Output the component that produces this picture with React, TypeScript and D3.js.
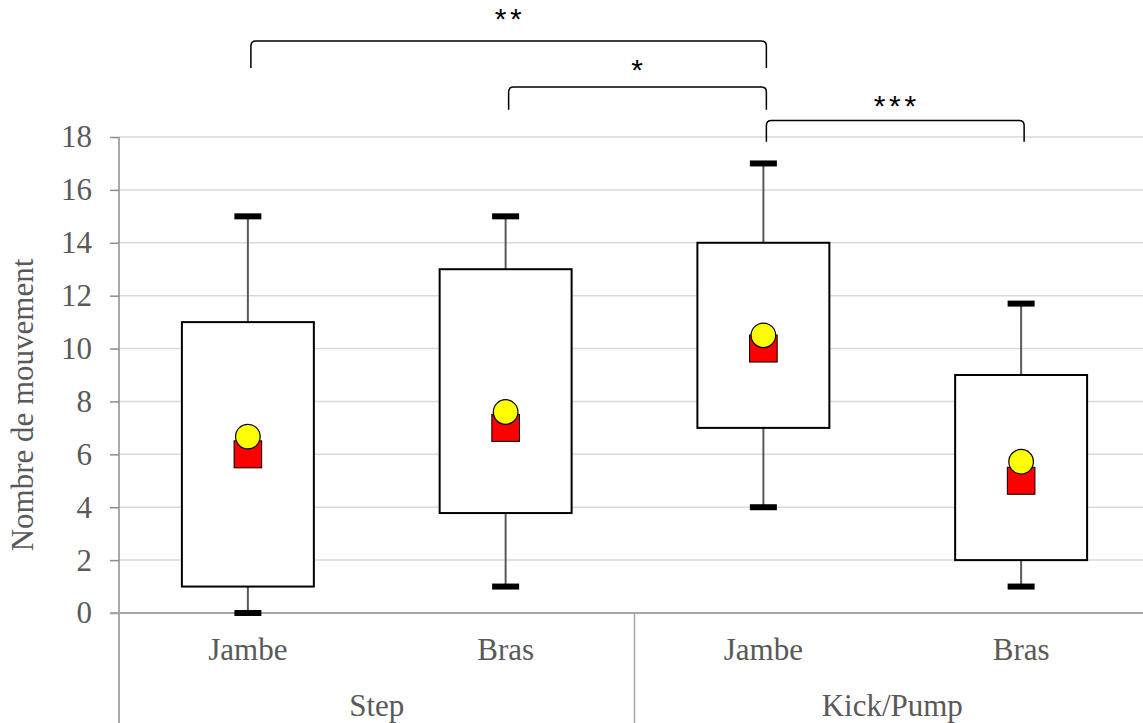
import React, { useEffect, useRef } from "react";
import * as d3 from "d3";

const groups = ["Step", "Kick/Pump"];
const categories = ["Jambe", "Bras", "Jambe", "Bras"];
const categoryGroup = [0, 0, 1, 1];
const mins = [0, 1, 4, 1];
const q1s = [1, 3.78, 7, 2];
const medians = [6, 7, 10, 5];
const q3s = [11, 13, 14, 9];
const maxs = [15, 15, 17, 11.7];
const means = [6.67, 7.6, 10.5, 5.72];
const yTicks = [0, 2, 4, 6, 8, 10, 12, 14, 16, 18];

// significance brackets (category indices, levels in axis units)
const bracketFrom = [0, 1, 2];
const bracketTo = [2, 2, 3];
const bracketTop = [21.63, 19.89, 18.62];
const bracketBottom = [20.61, 19.03, 17.82];
const bracketLabelAt = [22.6, 20.65, 19.3];
const bracketLabels = ["**", "*", "***"];

const W = 1143;
const H = 723;

const App = () => {
  const ref = useRef<SVGSVGElement | null>(null);

  useEffect(() => {
    document.body.style.margin = "0";
    const svg = d3.select(ref.current);
    svg.selectAll("*").remove();

    const left = 119;
    const right = 1150;
    const x = d3
      .scaleBand<number>()
      .domain(categories.map((_, i) => i))
      .range([left, right])
      .padding(0);
    const y = d3.scaleLinear().domain([0, 18]).range([613, 137]);
    const bw = x.bandwidth();
    const cx = (i: number) => (x(i) as number) + bw / 2;
    const serif = "'Liberation Serif', 'Times New Roman', serif";
    const grey = "#595959";

    // gridlines
    svg
      .append("g")
      .selectAll("line")
      .data(yTicks.filter((t) => t > 0))
      .enter()
      .append("line")
      .attr("x1", left)
      .attr("x2", W)
      .attr("y1", (d) => y(d))
      .attr("y2", (d) => y(d))
      .attr("stroke", "#d9d9d9")
      .attr("stroke-width", 1.5);

    // y axis
    const ya = svg.append("g").attr("transform", `translate(${left},0)`);
    ya.call(d3.axisLeft(y).tickValues(yTicks).tickSize(9).tickSizeOuter(0));
    ya.select(".domain").remove();
    ya.selectAll(".tick line").attr("stroke", "#8c8c8c").attr("stroke-width", 1.5);
    ya.selectAll(".tick text")
      .attr("x", -27)
      .attr("fill", grey)
      .style("font-family", serif)
      .style("font-size", "31px");
    svg
      .append("line")
      .attr("x1", left)
      .attr("x2", left)
      .attr("y1", y(18))
      .attr("y2", H)
      .attr("stroke", "#8c8c8c")
      .attr("stroke-width", 1.5);

    // x axis baseline
    svg
      .append("line")
      .attr("x1", left - 9)
      .attr("x2", W)
      .attr("y1", y(0))
      .attr("y2", y(0))
      .attr("stroke", "#a6a6a6")
      .attr("stroke-width", 2);

    // group separators
    groups.forEach((_, g) => {
      const idx = categoryGroup.indexOf(g);
      if (idx > 0) {
        svg
          .append("line")
          .attr("x1", x(idx) as number)
          .attr("x2", x(idx) as number)
          .attr("y1", y(0))
          .attr("y2", H)
          .attr("stroke", "#a6a6a6")
          .attr("stroke-width", 1.5);
      }
    });

    // category labels
    svg
      .append("g")
      .selectAll("text")
      .data(categories)
      .enter()
      .append("text")
      .attr("x", (_, i) => cx(i))
      .attr("y", 660)
      .attr("text-anchor", "middle")
      .attr("fill", grey)
      .style("font-family", serif)
      .style("font-size", "31px")
      .text((d) => d);

    svg
      .append("g")
      .selectAll("text")
      .data(groups)
      .enter()
      .append("text")
      .attr("x", (_, g) => {
        const idx = categoryGroup
          .map((v, i) => (v === g ? i : -1))
          .filter((i) => i >= 0);
        return ((x(idx[0]) as number) + (x(idx[idx.length - 1]) as number) + bw) / 2;
      })
      .attr("y", 716)
      .attr("text-anchor", "middle")
      .attr("fill", grey)
      .style("font-family", serif)
      .style("font-size", "31px")
      .text((d) => d);

    // y axis title
    svg
      .append("text")
      .attr("transform", `translate(33,405) rotate(-90)`)
      .attr("text-anchor", "middle")
      .attr("fill", grey)
      .style("font-family", serif)
      .style("font-size", "31px")
      .text("Nombre de mouvement");

    // boxes
    const boxW = bw * 0.512;
    const g = svg.append("g");
    categories.forEach((_, i) => {
      const c = cx(i);
      g.append("line")
        .attr("x1", c)
        .attr("x2", c)
        .attr("y1", y(mins[i]))
        .attr("y2", y(q1s[i]))
        .attr("stroke", grey)
        .attr("stroke-width", 2);
      g.append("line")
        .attr("x1", c)
        .attr("x2", c)
        .attr("y1", y(q3s[i]))
        .attr("y2", y(maxs[i]))
        .attr("stroke", grey)
        .attr("stroke-width", 2);
      [mins[i], maxs[i]].forEach((v) => {
        g.append("rect")
          .attr("x", c - 13.5)
          .attr("y", y(v) - 3)
          .attr("width", 27)
          .attr("height", 6)
          .attr("fill", "#000");
      });
      g.append("rect")
        .attr("x", c - boxW / 2)
        .attr("y", y(q3s[i]))
        .attr("width", boxW)
        .attr("height", y(q1s[i]) - y(q3s[i]))
        .attr("fill", "#fff")
        .attr("stroke", "#000")
        .attr("stroke-width", 2);
      g.append("rect")
        .attr("x", c - 13.8)
        .attr("y", y(medians[i]) - 13.5)
        .attr("width", 27.6)
        .attr("height", 27)
        .attr("fill", "#ff0000")
        .attr("stroke", "#000")
        .attr("stroke-width", 1);
      g.append("circle")
        .attr("cx", c)
        .attr("cy", y(means[i]))
        .attr("r", 12.3)
        .attr("fill", "#ffff00")
        .attr("stroke", "#000")
        .attr("stroke-width", 1.2);
    });

    // significance brackets
    const r = 5;
    bracketLabels.forEach((lab, k) => {
      const x1 = cx(bracketFrom[k]) + 3;
      const x2 = cx(bracketTo[k]) + 3;
      const t = y(bracketTop[k]);
      const b = y(bracketBottom[k]);
      const p = d3.path();
      p.moveTo(x1, b);
      p.lineTo(x1, t + r);
      p.quadraticCurveTo(x1, t, x1 + r, t);
      p.lineTo(x2 - r, t);
      p.quadraticCurveTo(x2, t, x2, t + r);
      p.lineTo(x2, b);
      svg
        .append("path")
        .attr("d", p.toString())
        .attr("fill", "none")
        .attr("stroke", "#000")
        .attr("stroke-width", 1.5);
      const fs = 30;
      svg
        .append("text")
        .attr("x", (x1 + x2) / 2 + 1.5)
        .attr("y", y(bracketLabelAt[k]) + fs * 0.45)
        .attr("text-anchor", "middle")
        .style("font-family", "'Liberation Sans', Arial, sans-serif")
        .style("font-size", `${fs}px`)
        .style("letter-spacing", "3.6px")
        .attr("fill", "#000")
        .text(lab);
    });
  }, []);

  return <svg ref={ref} width={W} height={H} style={{ display: "block" }} />;
};

export default App;
